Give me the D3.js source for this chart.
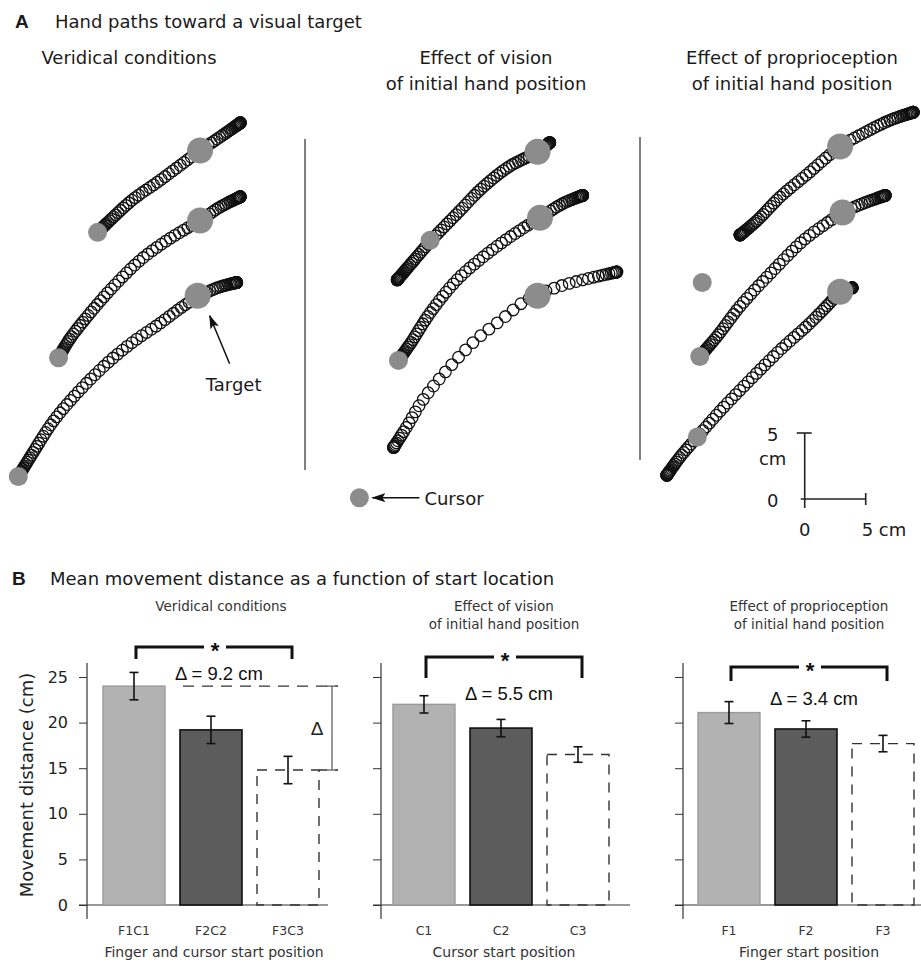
<!DOCTYPE html>
<html>
<head>
<meta charset="utf-8">
<script src="https://cdn.jsdelivr.net/npm/d3@7"></script>
<style>
body { margin: 0; background: #fff; }
svg { display: block; }
text { font-family: "DejaVu Sans", sans-serif; fill: #1a1a1a; }
</style>
</head>
<body>
<div id="chart"></div>
<script>
const width = 921;
const height = 967;

// ---------- Panel A: hand paths (cm, one frame per column) ----------
const columnTitles = [["Veridical conditions"],
                      ["Effect of vision", "of initial hand position"],
                      ["Effect of proprioception", "of initial hand position"]];

const veridicalPaths = [
  [[8.0,20.2],[9.0,21.1],[10.9,22.7],[12.9,24.0],[14.8,25.3],[16.4,26.4],[18.0,27.4],[19.7,28.5]],
  [[4.8,10.7],[5.7,12.1],[7.4,14.1],[9.3,16.1],[11.5,18.1],[13.7,19.6],[15.3,20.5],[16.4,21.1],[18.0,22.1],[19.7,22.9]],
  [[1.5,1.7],[2.7,3.5],[4.3,5.8],[6.3,8.0],[8.8,10.3],[10.9,11.9],[13.1,13.3],[15.0,14.6],[16.2,15.3],[17.8,16.0],[19.4,16.4]]
];
const visionPaths = [
  [[5.1,16.6],[6.4,18.0],[7.8,19.5],[10.3,21.9],[12.1,23.6],[14.3,25.2],[16.6,26.3],[17.6,27.0]],
  [[5.2,10.5],[6.2,11.8],[7.8,14.1],[10.0,16.6],[12.5,18.6],[14.9,20.2],[16.8,21.3],[18.7,22.4],[20.3,23.0]],
  [[4.8,3.9],[5.9,5.5],[7.2,7.5],[9.4,10.0],[11.6,12.1],[13.8,13.7],[15.4,14.9],[16.6,15.5],[18.7,16.2],[21.2,16.8],[23.1,17.2]]
];
const proprioPaths = [
  [[8.2,20.0],[9.6,21.1],[11.5,22.9],[13.7,24.6],[16.4,26.7],[18.3,27.7],[20.5,28.7],[22.4,29.3]],
  [[4.9,10.8],[6.3,12.3],[8.2,14.6],[10.7,17.1],[13.4,19.6],[15.3,20.9],[16.6,21.7],[18.3,22.4],[20.1,23.0]],
  [[2.2,1.8],[3.3,3.2],[4.7,4.7],[6.6,6.7],[9.0,9.0],[11.5,11.3],[13.9,13.3],[15.6,14.9],[16.4,15.7],[17.4,16.0]]
];
const sampleCounts = [[72, 82, 92], [88, 82, 54], [78, 78, 84]];

const veridicalTargets = [[16.4,26.4],[16.4,21.1],[16.2,15.4]];
const visionTargets = [[16.6,26.3],[16.8,21.3],[16.6,15.4]];
const proprioTargets = [[16.4,26.7],[16.6,21.7],[16.4,15.7]];

const veridicalStarts = [[8.0,20.2],[4.8,10.7],[1.5,1.7]];
const visionStarts = [[7.8,19.6],[5.2,10.5]];
const proprioStarts = [[5.1,16.4],[4.9,10.8],[4.7,4.7]];
const cursorLegend = [2.0, 0.1];
const scaleBarOrigin = [13.5, 0];
const scaleBarLength = 5;

// ---------- Panel B: mean movement distance ----------
const subTitles = [["Veridical conditions"],
                   ["Effect of vision", "of initial hand position"],
                   ["Effect of proprioception", "of initial hand position"]];
const barCategories = [["F1C1", "F2C2", "F3C3"], ["C1", "C2", "C3"], ["F1", "F2", "F3"]];
const barMeans = [[24.0, 19.2, 14.8], [22.0, 19.4, 16.5], [21.1, 19.3, 17.7]];
const barErrors = [[1.5, 1.5, 1.5], [0.95, 0.95, 0.85], [1.2, 0.9, 0.9]];
const deltaLabels = ["\u0394 = 9.2 cm", "\u0394 = 5.5 cm", "\u0394 = 3.4 cm"];
const xTitles = ["Finger and cursor start position", "Cursor start position", "Finger start position"];
const yTicks = [0, 5, 10, 15, 20, 25];
const bracketLevels = [28.3, 27.2, 26.1];
const deltaTextLevels = [24.7, 22.5, 21.9];

const svg = d3.select("#chart").append("svg")
  .attr("width", width)
  .attr("height", height)
  .style("background-color", "#FFFFFF");

const defs = svg.append("defs");
defs.append("marker")
  .attr("id", "arrow")
  .attr("viewBox", "0 0 14 9")
  .attr("refX", 13).attr("refY", 4.5)
  .attr("markerWidth", 14).attr("markerHeight", 9)
  .attr("markerUnits", "userSpaceOnUse")
  .attr("orient", "auto")
  .append("path")
  .attr("d", "M0,0 L14,4.5 L0,9 L3,4.5 Z")
  .attr("fill", "#111");

// ===== Panel A =====
svg.append("text").attr("x", 15).attr("y", 28)
  .style("font-family", "'Liberation Sans', Arial, sans-serif")
  .style("font-weight", "bold").style("font-size", "19px").text("A");
svg.append("text").attr("x", 55).attr("y", 28)
  .style("font-size", "18px").text("Hand paths toward a visual target");

const colOrigins = [0, 335, 640];
const colTitleX = [129, 486, 792];
const kx = 61 / 5, ky = 66 / 5;
const gray = "#8c8c8c";

const columns = [
  {paths: veridicalPaths, targets: veridicalTargets, starts: veridicalStarts},
  {paths: visionPaths, targets: visionTargets, starts: visionStarts},
  {paths: proprioPaths, targets: proprioTargets, starts: proprioStarts}
];

columns.forEach((col, ci) => {
  const xS = d3.scaleLinear().domain([0, 5]).range([colOrigins[ci], colOrigins[ci] + 5 * kx]);
  const yS = d3.scaleLinear().domain([0, 5]).range([499, 499 - 5 * ky]);
  const g = svg.append("g");

  //column title
  columnTitles[ci].forEach((t, li) => {
    g.append("text").attr("x", colTitleX[ci]).attr("y", 64 + li * 26)
     .attr("text-anchor", "middle")
     .style("font-size", "18px").text(t);
  });

  const line = d3.line().x(d => xS(d[0])).y(d => yS(d[1])).curve(d3.curveCatmullRom);

  col.paths.forEach((pts, pi) => {
    const guide = g.append("path").attr("d", line(pts)).attr("fill", "none").attr("stroke", "none");
    const node = guide.node();
    const L = node.getTotalLength();
    const n = sampleCounts[ci][pi];
    // samples along the path, slow at start and end of the reach
    const samples = d3.range(n).map(i => {
      const t = i / (n - 1);
      const s = t * t * t * (10 - 15 * t + 6 * t * t);
      return node.getPointAtLength(s * L);
    });
    g.selectAll(null).data(samples).enter().append("circle")
      .attr("cx", d => d.x).attr("cy", d => d.y).attr("r", 5.8)
      .attr("fill", "none").attr("stroke", "#111").attr("stroke-width", 1.3);
  });

  g.selectAll(".start").data(col.starts).enter().append("circle")
    .attr("cx", d => xS(d[0])).attr("cy", d => yS(d[1])).attr("r", 9.5)
    .attr("fill", gray);
  g.selectAll(".target").data(col.targets).enter().append("circle")
    .attr("cx", d => xS(d[0])).attr("cy", d => yS(d[1])).attr("r", 13)
    .attr("fill", gray);

  if (ci == 0) {
    const tg = col.targets[2];
    g.append("line")
      .attr("x1", xS(tg[0]) + 32).attr("y1", yS(tg[1]) + 68)
      .attr("x2", xS(tg[0]) + 12).attr("y2", yS(tg[1]) + 20)
      .attr("stroke", "#111").attr("stroke-width", 1.5)
      .attr("marker-end", "url(#arrow)");
    g.append("text").attr("x", xS(tg[0]) + 36).attr("y", yS(tg[1]) + 95)
      .attr("text-anchor", "middle").style("font-size", "18px").text("Target");
  }
  if (ci == 1) {
    const cx = xS(cursorLegend[0]), cy = yS(cursorLegend[1]);
    g.append("circle").attr("cx", cx).attr("cy", cy).attr("r", 9.5).attr("fill", gray);
    g.append("line").attr("x1", cx + 60).attr("y1", cy).attr("x2", cx + 13).attr("y2", cy)
      .attr("stroke", "#111").attr("stroke-width", 1.5).attr("marker-end", "url(#arrow)");
    g.append("text").attr("x", cx + 65).attr("y", cy + 7).style("font-size", "18px").text("Cursor");
  }
  if (ci == 2) {
    //scale bar
    const x0 = xS(scaleBarOrigin[0]), y0 = yS(scaleBarOrigin[1]);
    const x5 = xS(scaleBarOrigin[0] + scaleBarLength), y5 = yS(scaleBarOrigin[1] + scaleBarLength);
    const sb = g.append("g").attr("stroke", "#222").attr("stroke-width", 1.6);
    sb.append("line").attr("x1", x0).attr("y1", y5).attr("x2", x0).attr("y2", y0 + 9);
    sb.append("line").attr("x1", x0 - 8).attr("y1", y5).attr("x2", x0 + 7).attr("y2", y5);
    sb.append("line").attr("x1", x0 - 4).attr("y1", y0).attr("x2", x5).attr("y2", y0);
    sb.append("line").attr("x1", x5).attr("y1", y0 - 6).attr("x2", x5).attr("y2", y0 + 6);
    g.append("text").attr("x", x0 - 32).attr("y", y5 + 8).attr("text-anchor", "middle").style("font-size", "18px").text("5");
    g.append("text").attr("x", x0 - 32).attr("y", y5 + 32).attr("text-anchor", "middle").style("font-size", "18px").text("cm");
    g.append("text").attr("x", x0 - 32).attr("y", y0 + 8).attr("text-anchor", "middle").style("font-size", "18px").text("0");
    g.append("text").attr("x", x0).attr("y", y0 + 37).attr("text-anchor", "middle").style("font-size", "18px").text("0");
    g.append("text").attr("x", x5 - 4).attr("y", y0 + 37).style("font-size", "18px").text("5 cm");
  }
});

//column separators
[[305, 139, 470], [640, 137, 460]].forEach(s => {
  svg.append("line").attr("x1", s[0]).attr("x2", s[0]).attr("y1", s[1]).attr("y2", s[2])
    .attr("stroke", "#555").attr("stroke-width", 1.5);
});

// ===== Panel B =====
svg.append("text").attr("x", 12).attr("y", 585)
  .style("font-family", "'Liberation Sans', Arial, sans-serif")
  .style("font-weight", "bold").style("font-size", "19px").text("B");
svg.append("text").attr("x", 50).attr("y", 585)
  .style("font-size", "18px").text("Mean movement distance as a function of start location");

const axisX = [87, 381, 683];
const firstBarX = [103, 393, 698];
const axisEnd = [328, 630, 921];
const yB = d3.scaleLinear().domain([0, 25]).range([905, 677]);

barCategories.forEach((cats, pi) => {
  const g = svg.append("g");
  const xB = d3.scaleBand().domain(cats)
    .range([firstBarX[pi], firstBarX[pi] + 216])
    .paddingInner(0.195).paddingOuter(0);
  const bw = xB.bandwidth();
  const cx = c => xB(c) + bw / 2;

  //subplot title
  subTitles[pi].forEach((t, li) => {
    g.append("text").attr("x", cx(cats[1]) + (pi == 0 ? 10 : 3)).attr("y", 611 + li * 18)
      .attr("text-anchor", "middle").style("font-size", "13.5px").style("fill", "#333").text(t);
  });

  //y axis
  const yAxis = d3.axisLeft(yB).tickValues(yTicks).tickSize(8)
    .tickFormat(pi == 0 ? d3.format("d") : "");
  const ya = g.append("g").attr("transform", "translate(" + axisX[pi] + ",0)").call(yAxis);
  ya.select(".domain").remove();
  ya.selectAll("line").attr("stroke", "#333");
  ya.selectAll("text").style("font-size", "16px").style("font-family", "'DejaVu Sans', sans-serif")
    .attr("x", -19).style("fill", "#222");
  g.append("line").attr("x1", axisX[pi]).attr("x2", axisX[pi]).attr("y1", 663).attr("y2", 919)
    .attr("stroke", "#333").attr("stroke-width", 1.2);
  g.append("line").attr("x1", axisX[pi] - 8).attr("x2", axisEnd[pi]).attr("y1", yB(0)).attr("y2", yB(0))
    .attr("stroke", "#333").attr("stroke-width", 1.2);

  //bars
  const fills = ["#b2b2b2", "#5c5c5c", "none"];
  const strokes = ["#9a9a9a", "#111", "#333"];
  cats.forEach((c, i) => {
    g.append("rect")
      .attr("x", xB(c)).attr("y", yB(barMeans[pi][i]))
      .attr("width", bw).attr("height", yB(0) - yB(barMeans[pi][i]))
      .attr("fill", fills[i]).attr("stroke", strokes[i])
      .attr("stroke-width", i == 1 ? 1.6 : 1.4)
      .attr("stroke-dasharray", i == 2 ? "10,8" : null);
  });

  //error bars
  cats.forEach((c, i) => {
    const m = barMeans[pi][i], e = barErrors[pi][i];
    const eg = g.append("g").attr("stroke", "#111").attr("stroke-width", 1.6);
    eg.append("line").attr("x1", cx(c)).attr("x2", cx(c)).attr("y1", yB(m + e)).attr("y2", yB(m - e));
    eg.append("line").attr("x1", cx(c) - 4.5).attr("x2", cx(c) + 4.5).attr("y1", yB(m + e)).attr("y2", yB(m + e));
    eg.append("line").attr("x1", cx(c) - 4.5).attr("x2", cx(c) + 4.5).attr("y1", yB(m - e)).attr("y2", yB(m - e));
  });

  //tick labels and axis title
  cats.forEach(c => {
    g.append("text").attr("x", cx(c)).attr("y", 935).attr("text-anchor", "middle")
      .style("font-size", "12.5px").style("fill", "#333").text(c);
  });
  g.append("text").attr("x", cx(cats[1]) + 3).attr("y", 957).attr("text-anchor", "middle")
    .style("font-size", "14px").style("fill", "#333").text(xTitles[pi]);

  //significance bracket
  const by = yB(bracketLevels[pi]);
  const drop = [12, 21, 14][pi];
  const xl = cx(cats[0]) + 2, xr = cx(cats[2]) + 4, xm = cx(cats[1]) + 4;
  const bg = g.append("g").attr("stroke", "#111").attr("stroke-width", 3).attr("fill", "none");
  bg.append("path").attr("d", `M${xl},${by + drop} V${by} H${xm - 11}`);
  bg.append("path").attr("d", `M${xm + 11},${by} H${xr} V${by + drop}`);
  g.append("text").attr("x", xm).attr("y", by + 11).attr("text-anchor", "middle")
    .style("font-family", "'Liberation Sans', Arial, sans-serif")
    .style("font-weight", "bold").style("font-size", "22px").style("fill", "#111").text("*");

  //delta label
  g.append("text").attr("x", cx(cats[1]) + 8).attr("y", yB(deltaTextLevels[pi]))
    .attr("text-anchor", "middle")
    .style("font-family", "'Liberation Sans', Arial, sans-serif")
    .style("font-size", "18.5px").style("fill", "#111").text(deltaLabels[pi]);

  if (pi == 0) {
    const top = yB(barMeans[0][0]), bot = yB(barMeans[0][2]);
    const dx = 332;
    g.append("line").attr("x1", 183).attr("x2", dx + 6).attr("y1", top).attr("y2", top)
      .attr("stroke", "#333").attr("stroke-width", 1.4).attr("stroke-dasharray", "11,8");
    g.append("line").attr("x1", xB(cats[2]) + bw).attr("x2", dx + 6).attr("y1", bot).attr("y2", bot)
      .attr("stroke", "#333").attr("stroke-width", 1.4).attr("stroke-dasharray", "8,8");
    const dg = g.append("g").attr("stroke", "#555").attr("stroke-width", 1.2);
    dg.append("line").attr("x1", dx).attr("x2", dx).attr("y1", top).attr("y2", bot);
    dg.append("line").attr("x1", dx - 6).attr("x2", dx + 6).attr("y1", top).attr("y2", top);
    dg.append("line").attr("x1", dx - 6).attr("x2", dx + 6).attr("y1", bot).attr("y2", bot);
    g.append("text").attr("x", 317).attr("y", (top + bot) / 2 + 7).attr("text-anchor", "middle")
      .style("font-family", "'Liberation Sans', Arial, sans-serif")
      .style("font-size", "19px").style("fill", "#222").text("\u0394");
  }
});

//y axis title
svg.append("text")
  .attr("transform", "translate(33,785) rotate(-90)")
  .attr("text-anchor", "middle")
  .style("font-size", "18px").style("fill", "#222")
  .text("Movement distance (cm)");
</script>
</body>
</html>
